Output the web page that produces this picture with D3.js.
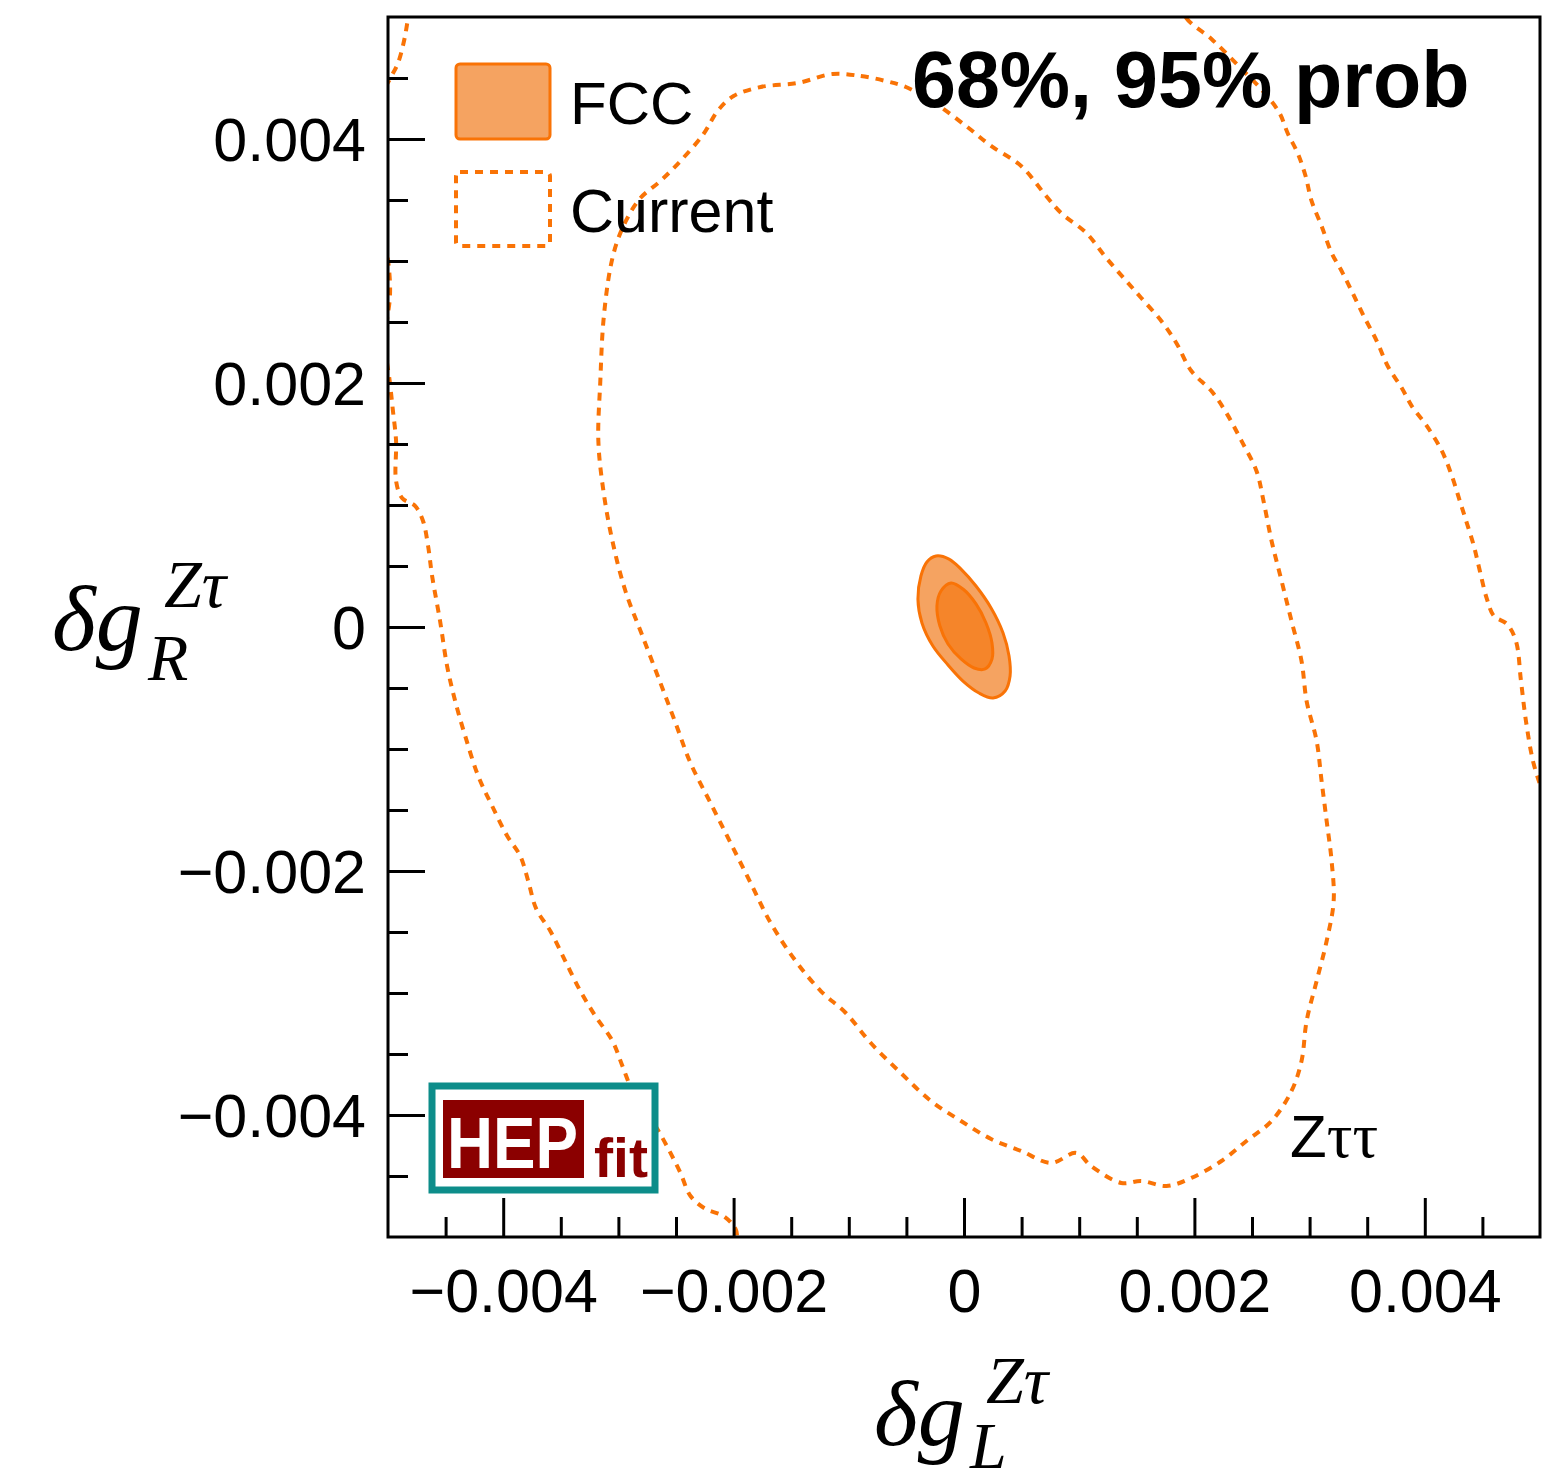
<!DOCTYPE html>
<html>
<head>
<meta charset="utf-8">
<script src="https://cdn.jsdelivr.net/npm/d3@7"></script>
<style>
  html, body { margin: 0; padding: 0; background: #fff; }
  svg { display: block; }
</style>
</head>
<body>
<div id="chart"></div>
<script>
// axis ticks
const xTickValues = [-0.004, -0.002, 0, 0.002, 0.004];
const xTickLabels = ["\u22120.004", "\u22120.002", "0", "0.002", "0.004"];
const yTickValues = [-0.004, -0.002, 0, 0.002, 0.004];
const yTickLabels = ["\u22120.004", "\u22120.002", "0", "0.002", "0.004"];
const minorTickValues = [-0.0045, -0.0035, -0.003, -0.0025, -0.0015, -0.001, -0.0005,
  0.0005, 0.001, 0.0015, 0.0025, 0.003, 0.0035, 0.0045];

// Current 68% contour [dgL, dgR]
const current68 = [
  [-0.001139, 0.004533], [-0.000896, 0.004516], [-0.000678, 0.004475], [-0.000504, 0.004426],
  [-0.000243, 0.004287], [0.000017, 0.004107], [0.000235, 0.003943], [0.000496, 0.003779],
  [0.000713, 0.003533], [0.000843, 0.003393], [0.001061, 0.003230], [0.001235, 0.003025],
  [0.001409, 0.002836], [0.001539, 0.002697], [0.001713, 0.002508], [0.001843, 0.002328],
  [0.001974, 0.002098], [0.002148, 0.001934], [0.002278, 0.001754], [0.002409, 0.001525],
  [0.002539, 0.001279], [0.002600, 0.001033], [0.002670, 0.000705], [0.002757, 0.000377],
  [0.002843, 0.000049], [0.002930, -0.000279], [0.002974, -0.000607], [0.003061, -0.000934],
  [0.003104, -0.001262], [0.003148, -0.001590], [0.003191, -0.001918], [0.003209, -0.002246],
  [0.003148, -0.002574], [0.003061, -0.002902], [0.002974, -0.003230], [0.002930, -0.003557],
  [0.002843, -0.003803], [0.002670, -0.004049], [0.002452, -0.004213], [0.002235, -0.004377],
  [0.001974, -0.004516], [0.001757, -0.004582], [0.001539, -0.004541], [0.001365, -0.004557],
  [0.001104, -0.004418], [0.000974, -0.004311], [0.000757, -0.004393], [0.000496, -0.004295],
  [0.000235, -0.004197], [-0.000026, -0.004049], [-0.000287, -0.003885], [-0.000548, -0.003656],
  [-0.000809, -0.003410], [-0.001026, -0.003164], [-0.001243, -0.002984], [-0.001461, -0.002738],
  [-0.001678, -0.002426], [-0.001852, -0.002098], [-0.002026, -0.001770], [-0.002200, -0.001443],
  [-0.002374, -0.001115], [-0.002504, -0.000787], [-0.002635, -0.000459], [-0.002791, -0.000074],
  [-0.002939, 0.000295], [-0.003052, 0.000705], [-0.003130, 0.001115], [-0.003174, 0.001525],
  [-0.003157, 0.002016], [-0.003130, 0.002508], [-0.003070, 0.002943], [-0.003009, 0.003164],
  [-0.002922, 0.003352], [-0.002809, 0.003516], [-0.002635, 0.003656], [-0.002461, 0.003820],
  [-0.002261, 0.004041], [-0.002139, 0.004230], [-0.002000, 0.004352], [-0.001765, 0.004426],
  [-0.001443, 0.004459]
];

// Current 95% contour (runs outside the frame, clipped)
const current95 = [
  [0.001843, 0.005213], [0.001930, 0.004992], [0.002148, 0.004820], [0.002409, 0.004574],
  [0.002609, 0.004377], [0.002739, 0.004213], [0.002809, 0.004049], [0.002896, 0.003885],
  [0.002965, 0.003697], [0.003017, 0.003492], [0.003104, 0.003287], [0.003191, 0.003066],
  [0.003278, 0.002918], [0.003365, 0.002754], [0.003470, 0.002549], [0.003583, 0.002344],
  [0.003678, 0.002139], [0.003800, 0.001959], [0.003887, 0.001811], [0.004017, 0.001648],
  [0.004148, 0.001443], [0.004235, 0.001238], [0.004304, 0.001033], [0.004365, 0.000852],
  [0.004426, 0.000664], [0.004478, 0.000459], [0.004539, 0.000230], [0.004600, 0.000090],
  [0.004713, 0.000025], [0.004791, -0.000115], [0.004835, -0.000443], [0.004878, -0.000770],
  [0.004939, -0.001098], [0.005017, -0.001344], [0.005122, -0.001672], [0.005191, -0.003066],
  [0.005061, -0.004295], [0.005009, -0.004582], [0.005087, -0.004951], [0.005061, -0.005197],
  [-0.001922, -0.005115], [-0.001983, -0.004934], [-0.002087, -0.004828], [-0.002243, -0.004770],
  [-0.002374, -0.004664], [-0.002461, -0.004475], [-0.002548, -0.004311], [-0.002652, -0.004131],
  [-0.002765, -0.003967], [-0.002878, -0.003803], [-0.002965, -0.003598], [-0.003052, -0.003393],
  [-0.003200, -0.003189], [-0.003330, -0.002984], [-0.003461, -0.002738], [-0.003591, -0.002492],
  [-0.003713, -0.002311], [-0.003783, -0.002082], [-0.003852, -0.001877], [-0.003965, -0.001713],
  [-0.004096, -0.001467], [-0.004217, -0.001221], [-0.004330, -0.000893], [-0.004417, -0.000607],
  [-0.004487, -0.000320], [-0.004548, 0.000049], [-0.004617, 0.000418], [-0.004652, 0.000664],
  [-0.004696, 0.000869], [-0.004765, 0.000992], [-0.004878, 0.001057], [-0.004930, 0.001197],
  [-0.004930, 0.001525], [-0.004957, 0.001770], [-0.004983, 0.002000], [-0.005026, 0.002344],
  [-0.004983, 0.002713], [-0.004991, 0.002934], [-0.005070, 0.003492], [-0.005052, 0.004352],
  [-0.004983, 0.004492], [-0.004913, 0.004623], [-0.004861, 0.004803], [-0.004826, 0.004992],
  [-0.004791, 0.005213]
];

// FCC contours
const fcc95 = [
  [-0.000243, 0.000582], [-0.000130, 0.000557], [-0.000026, 0.000475], [0.000104, 0.000336],
  [0.000235, 0.000156], [0.000339, -0.000049], [0.000391, -0.000238], [0.000400, -0.000402],
  [0.000357, -0.000525], [0.000252, -0.000582], [0.000130, -0.000541], [-0.000009, -0.000443],
  [-0.000139, -0.000311], [-0.000270, -0.000156], [-0.000365, 0.000033], [-0.000400, 0.000230],
  [-0.000374, 0.000418], [-0.000322, 0.000533]
];
const fcc68 = [
  [-0.000113, 0.000361], [-0.000009, 0.000311], [0.000104, 0.000189], [0.000191, 0.000033],
  [0.000243, -0.000131], [0.000243, -0.000262], [0.000183, -0.000344], [0.000087, -0.000336],
  [-0.000026, -0.000262], [-0.000139, -0.000139], [-0.000209, 0.000008], [-0.000235, 0.000172],
  [-0.000200, 0.000295]
];

const W = 1542, H = 1482;
const frame = { left: 388, right: 1540, top: 17, bottom: 1237 };
const orange = "#f97306";
const sans = "'Liberation Sans', Arial, Helvetica, sans-serif";
const serif = "'Liberation Serif', 'Times New Roman', serif";
const dash = "8,7";

const svg = d3.select("#chart").append("svg")
  .attr("width", W).attr("height", H);

const x = d3.scaleLinear().domain([-0.005, 0.005]).range([frame.left, frame.right]);
const y = d3.scaleLinear().domain([-0.005, 0.005]).range([frame.bottom, frame.top]);

svg.append("clipPath").attr("id", "plotClip")
  .append("rect")
  .attr("x", frame.left).attr("y", frame.top)
  .attr("width", frame.right - frame.left).attr("height", frame.bottom - frame.top);

const plot = svg.append("g").attr("clip-path", "url(#plotClip)");

const closedLine = d3.line()
  .x(d => x(d[0])).y(d => y(d[1]))
  .curve(d3.curveCatmullRomClosed.alpha(0.5));

// Current contours, dotted
plot.selectAll("path.current")
  .data([current95, current68])
  .join("path")
  .attr("class", "current")
  .attr("d", closedLine)
  .attr("fill", "none")
  .attr("stroke", orange)
  .attr("stroke-width", 4)
  .attr("stroke-dasharray", dash);

// FCC contours, filled
plot.append("path")
  .attr("d", closedLine(fcc95))
  .attr("fill", "#f5a361")
  .attr("stroke", orange)
  .attr("stroke-width", 3);
plot.append("path")
  .attr("d", closedLine(fcc68))
  .attr("fill", "#f5852a")
  .attr("stroke", orange)
  .attr("stroke-width", 3);

// axes, ticks pointing inward
const xAxis = svg.append("g")
  .attr("transform", `translate(0,${frame.bottom})`)
  .call(d3.axisBottom(x).tickValues(xTickValues)
    .tickFormat((d, i) => xTickLabels[i]).tickSize(-39).tickPadding(32));
xAxis.select(".domain").remove();
xAxis.selectAll("line").attr("stroke", "#000").attr("stroke-width", 3);
xAxis.selectAll("text").attr("font-family", sans).attr("font-size", 61).attr("fill", "#000");

svg.append("g")
  .attr("transform", `translate(0,${frame.bottom})`)
  .call(d3.axisBottom(x).tickValues(minorTickValues).tickFormat("").tickSize(-20))
  .call(g => g.select(".domain").remove())
  .selectAll("line").attr("stroke", "#000").attr("stroke-width", 3);

const yAxis = svg.append("g")
  .attr("transform", `translate(${frame.left},0)`)
  .call(d3.axisLeft(y).tickValues(yTickValues)
    .tickFormat((d, i) => yTickLabels[i]).tickSize(-37).tickPadding(22));
yAxis.select(".domain").remove();
yAxis.selectAll("line").attr("stroke", "#000").attr("stroke-width", 3);
yAxis.selectAll("text").attr("font-family", sans).attr("font-size", 61)
  .attr("fill", "#000").attr("dy", "0.36em");

svg.append("g")
  .attr("transform", `translate(${frame.left},0)`)
  .call(d3.axisLeft(y).tickValues(minorTickValues).tickFormat("").tickSize(-20))
  .call(g => g.select(".domain").remove())
  .selectAll("line").attr("stroke", "#000").attr("stroke-width", 3);

// frame
svg.append("rect")
  .attr("x", frame.left).attr("y", frame.top)
  .attr("width", frame.right - frame.left).attr("height", frame.bottom - frame.top)
  .attr("fill", "none").attr("stroke", "#000").attr("stroke-width", 3);

// legend
const legend = svg.append("g");
legend.append("rect")
  .attr("x", 456).attr("y", 64).attr("width", 94).attr("height", 75).attr("rx", 4)
  .attr("fill", "#f5a361").attr("stroke", orange).attr("stroke-width", 3);
legend.append("rect")
  .attr("x", 456).attr("y", 172).attr("width", 94).attr("height", 74).attr("rx", 4)
  .attr("fill", "none").attr("stroke", orange).attr("stroke-width", 4)
  .attr("stroke-dasharray", dash);
legend.append("text").attr("x", 570).attr("y", 124)
  .attr("font-family", sans).attr("font-size", 60).text("FCC");
legend.append("text").attr("x", 570).attr("y", 232)
  .attr("font-family", sans).attr("font-size", 61).text("Current");

// title inside frame
svg.append("text").attr("x", 912).attr("y", 107)
  .attr("font-family", sans).attr("font-size", 79).attr("font-weight", "bold")
  .text("68%, 95% prob");

const ztt = svg.append("text").attr("x", 1290).attr("y", 1157).attr("fill", "#000");
ztt.append("tspan").attr("font-family", sans).attr("font-size", 60).text("Z");
ztt.append("tspan").attr("font-family", serif).attr("font-size", 64).text("\u03c4\u03c4");

// HEPfit logo
const logo = svg.append("g");
logo.append("rect")
  .attr("x", 432).attr("y", 1086).attr("width", 223).attr("height", 104)
  .attr("fill", "#fff").attr("stroke", "#0d8d8a").attr("stroke-width", 7);
logo.append("rect")
  .attr("x", 443).attr("y", 1100).attr("width", 141).attr("height", 78)
  .attr("fill", "#8b0000");
logo.append("text").attr("x", 447).attr("y", 1168)
  .attr("font-family", sans).attr("font-weight", "bold").attr("font-size", 72)
  .attr("fill", "#fff").attr("textLength", 131).attr("lengthAdjust", "spacingAndGlyphs")
  .text("HEP");
logo.append("text").attr("x", 594).attr("y", 1177)
  .attr("font-family", sans).attr("font-weight", "bold").attr("font-size", 56)
  .attr("fill", "#8b0000").attr("textLength", 54).attr("lengthAdjust", "spacingAndGlyphs")
  .text("fit");

// axis titles
function axisTitle(px, py, sub, subY, supY) {
  const t = svg.append("text").attr("font-family", serif).attr("font-style", "italic")
    .attr("fill", "#000");
  t.append("tspan").attr("x", px).attr("y", py).attr("font-size", 94).text("\u03b4g");
  t.append("tspan").attr("x", px + 96).attr("y", subY).attr("font-size", 66).text(sub);
  t.append("tspan").attr("x", px + 112).attr("y", supY).attr("font-size", 68).text("Z\u03c4");
}
axisTitle(52, 650, "R", 680, 607);
axisTitle(874, 1445, "L", 1468, 1403);
</script>
</body>
</html>
